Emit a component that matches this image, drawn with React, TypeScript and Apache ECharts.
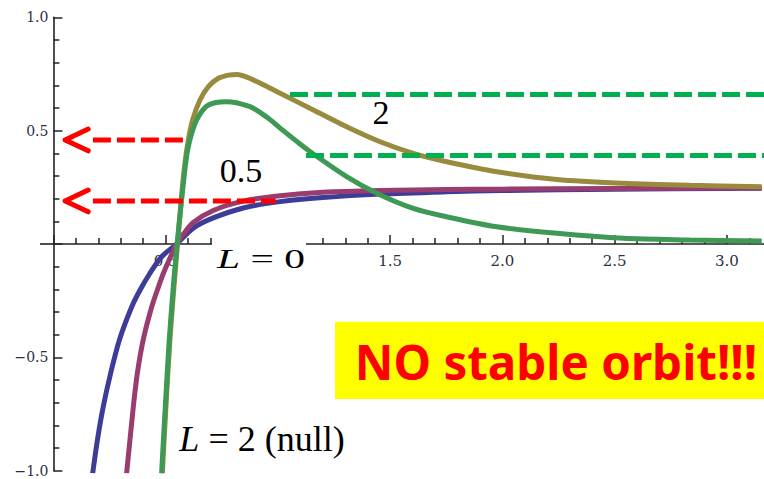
import React, { useEffect, useRef } from "react";
import * as echarts from "echarts";

// Effective potential curves, sampled points (r, V)
const L0_X = [0.175, 0.196, 0.222, 0.255, 0.294, 0.349, 0.386, 0.43, 0.482, 0.549, 0.623, 0.712, 0.85, 1.01, 1.2, 1.455, 1.75, 2.0, 2.5, 3.0, 3.155];
const L0_Y = [-1.012, -0.865, -0.718, -0.57, -0.423, -0.277, -0.203, -0.129, -0.056, 0, 0.07, 0.115, 0.16, 0.187, 0.205, 0.22, 0.23, 0.236, 0.242, 0.245, 0.246];

const L05_X = [0.326, 0.341, 0.356, 0.374, 0.4, 0.438, 0.463, 0.49, 0.522, 0.549, 0.58, 0.623, 0.712, 0.85, 1.01, 1.2, 1.455, 1.75, 2.0, 2.5, 3.155];
const L05_Y = [-1.012, -0.865, -0.718, -0.57, -0.423, -0.277, -0.203, -0.129, -0.056, 0, 0.045, 0.095, 0.148, 0.19, 0.213, 0.228, 0.236, 0.24, 0.242, 0.245, 0.247];

const L2_X = [0.485, 0.493, 0.51, 0.519, 0.53, 0.542, 0.553, 0.568, 0.585, 0.601, 0.62, 0.653, 0.69, 0.735, 0.78, 0.819, 0.87, 0.92, 1.01, 1.158, 1.306, 1.455, 1.603, 1.752, 1.975, 2.242, 2.539, 2.835, 3.155];
const L2_Y = [-1.02, -0.865, -0.57, -0.423, -0.277, -0.129, 0, 0.18, 0.35, 0.459, 0.547, 0.635, 0.694, 0.731, 0.745, 0.748, 0.733, 0.71, 0.665, 0.591, 0.517, 0.451, 0.4, 0.363, 0.319, 0.285, 0.268, 0.259, 0.253];

const NULL_X = [0.482, 0.49, 0.507, 0.516, 0.527, 0.539, 0.551, 0.571, 0.591, 0.608, 0.638, 0.68, 0.72, 0.769, 0.876, 0.95, 1.024, 1.1, 1.158, 1.306, 1.44, 1.603, 1.752, 1.975, 2.242, 2.54, 2.835, 3.155];
const NULL_Y = [-1.012, -0.865, -0.57, -0.423, -0.277, -0.129, 0, 0.194, 0.37, 0.459, 0.547, 0.606, 0.623, 0.628, 0.606, 0.56, 0.5, 0.44, 0.397, 0.297, 0.224, 0.157, 0.12, 0.076, 0.047, 0.025, 0.018, 0.013];

// Energy levels marked with dashed guides
const RED_LEVELS = [0.459, 0.19];
const RED_SPANS = [[0.176, 0.586], [0.176, 0.99]];
const ARROW_TIP_X = 0.052;
const ARROW_ARM_X = 0.155;
const ARROW_ARM_DY = 0.048;

const GREEN_LEVELS = [0.66, 0.39];
const GREEN_STARTS = [1.054, 1.125];
const GREEN_END = 3.25;

const X_LABEL_TICKS = [0.5, 1.0, 1.5, 2.0, 2.5, 3.0];

const zip = (xs: number[], ys: number[]) => xs.map((x, i) => [x, ys[i]]);

const COLORS = {
  l0: "#3d3d99",
  l05: "#993d71",
  l2: "#998b3d",
  nul: "#3d9954",
};

// plot frame (px)
const GRID_TOP = 17.3;
const GRID_HEIGHT = 453.4;
const GRID_LEFT = 53.4;
const GRID_WIDTH = 785.75;
const Y_MIN = -1;
const Y_MAX = 1;

const curve = (name: string, data: number[][], color: string) => ({
  name,
  type: "line",
  data,
  smooth: 0.3,
  symbol: "none",
  silent: true,
  lineStyle: { color, width: 5 },
});

export default function App() {
  const ref = useRef<HTMLDivElement>(null);

  useEffect(() => {
    if (!ref.current) return;
    const chart = echarts.init(ref.current, null, { renderer: "svg" });

    const dashed = (data: number[][], color: string) => ({
      type: "line",
      data,
      symbol: "none",
      silent: true,
      z: 5,
      lineStyle: { color, width: 5, type: [18, 6], cap: "butt" },
    });

    const chevron = (y: number) => ({
      type: "line",
      data: [
        [ARROW_ARM_X, y + ARROW_ARM_DY],
        [ARROW_TIP_X, y],
        [ARROW_ARM_X, y - ARROW_ARM_DY],
      ],
      symbol: "none",
      silent: true,
      z: 5,
      lineStyle: { color: "#ff0000", width: 5, cap: "round", join: "round" },
    });

    const serif = "'Liberation Serif', 'Times New Roman', serif";
    const tickFont = "'DejaVu Serif', serif";

    // r-axis labels sit just under the V = 0 line rather than the frame bottom
    const zeroToBottom = (GRID_HEIGHT * (0 - Y_MIN)) / (Y_MAX - Y_MIN);
    const xLabelMargin = 9 - zeroToBottom;

    chart.setOption({
      animation: false,
      backgroundColor: "#ffffff",
      grid: { left: GRID_LEFT, top: GRID_TOP, width: GRID_WIDTH, height: GRID_HEIGHT, containLabel: false, outerBoundsMode: "none" },
      xAxis: {
        type: "value",
        min: 0,
        max: 3.5,
        interval: 0.5,
        axisLine: { show: true, onZero: true, lineStyle: { color: "#222", width: 1.6 } },
        axisTick: { show: true, inside: true, length: 9, lineStyle: { color: "#222", width: 1.5 } },
        minorTick: { show: true, splitNumber: 5, length: 6, lineStyle: { color: "#222", width: 1.5 } },
        splitLine: { show: false },
        minorSplitLine: { show: false },
        axisLabel: {
          margin: xLabelMargin,
          fontFamily: tickFont,
          fontSize: 15,
          color: "#2a2f45",
          hideOverlap: false,
          formatter: (v: number) => (X_LABEL_TICKS.some((t) => Math.abs(t - v) < 1e-9) ? v.toFixed(1) : ""),
        },
      },
      yAxis: {
        type: "value",
        min: Y_MIN,
        max: Y_MAX,
        interval: 0.5,
        axisLine: { show: true, onZero: true, lineStyle: { color: "#222", width: 1.6 } },
        axisTick: { show: true, inside: true, length: 9, lineStyle: { color: "#222", width: 1.5 } },
        minorTick: { show: true, splitNumber: 5, length: 6, lineStyle: { color: "#222", width: 1.5 } },
        splitLine: { show: false },
        minorSplitLine: { show: false },
        axisLabel: {
          margin: 5,
          fontFamily: tickFont,
          fontSize: 14,
          color: "#2a2f45",
          formatter: (v: number) => (v === 0 ? "" : (v < 0 ? "\u2212" : "") + Math.abs(v).toFixed(1)),
        },
      },
      series: [
        curve("L = 0", zip(L0_X, L0_Y), COLORS.l0),
        curve("L = 0.5", zip(L05_X, L05_Y), COLORS.l05),
        curve("L = 2", zip(L2_X, L2_Y), COLORS.l2),
        curve("L = 2 (null)", zip(NULL_X, NULL_Y), COLORS.nul),
        ...RED_LEVELS.map((y, i) => dashed([[RED_SPANS[i][0], y], [RED_SPANS[i][1], y]], "#ff0000")),
        ...RED_LEVELS.map((y) => chevron(y)),
        ...GREEN_LEVELS.map((y, i) => dashed([[GREEN_STARTS[i], y], [GREEN_END, y]], "#00b050")),
      ],
      graphic: [
        // short stretch of the r axis left of the V axis
        { type: "line", z: 50, shape: { x1: 40, y1: 244, x2: GRID_LEFT, y2: 244 }, style: { stroke: "#222", lineWidth: 1.6 } },
        // white box behind the L = 0 label
        { type: "rect", z: 50, shape: { x: 212, y: 235, width: 94, height: 38 }, style: { fill: "#ffffff" } },
        {
          type: "text", z: 51, x: 261, y: 259, scaleY: 0.8, scaleX: 1.22,
          style: {
            text: "{i|L} = 0", fill: "#000", font: `34px ${serif}`, align: "center", verticalAlign: "middle",
            rich: { i: { fontStyle: "italic", fontSize: 34, fontFamily: serif } },
          },
        },
        {
          type: "text", z: 51, x: 262, y: 439,
          style: {
            text: "{i|L} = 2 (null)", fill: "#000", font: `36px ${serif}`, align: "center", verticalAlign: "middle",
            rich: { i: { fontStyle: "italic", fontSize: 36, fontFamily: serif } },
          },
        },
        { type: "text", z: 51, x: 381, y: 112, style: { text: "2", fill: "#000", font: `34px ${serif}`, align: "center", verticalAlign: "middle" } },
        { type: "text", z: 51, x: 241, y: 170, style: { text: "0.5", fill: "#000", font: `34px ${serif}`, align: "center", verticalAlign: "middle" } },
        { type: "rect", z: 50, shape: { x: 335, y: 321.7, width: 430, height: 77.3 }, style: { fill: "#ffff00" } },
        {
          type: "text", z: 51, x: 556, y: 361,
          style: { text: "NO stable orbit!!!", fill: "#ff0000", font: `bold 47.5px 'Noto Sans', 'Open Sans', sans-serif`, align: "center", verticalAlign: "middle" },
        },
      ],
    });

    return () => chart.dispose();
  }, []);

  return (
    <div style={{ position: "fixed", left: 0, top: 0, width: 764, height: 479, overflow: "hidden", background: "#fff" }}>
      <div ref={ref} style={{ width: 860, height: 479 }} />
    </div>
  );
}
